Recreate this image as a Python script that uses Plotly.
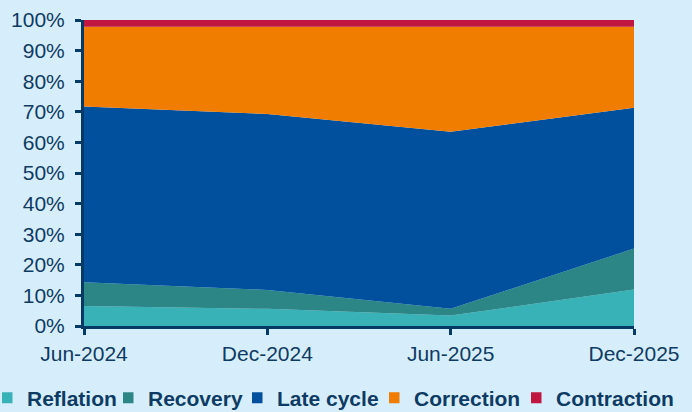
import plotly.graph_objects as go

periods = ["Jun-2024", "Dec-2024", "Jun-2025", "Dec-2025"]
reflation = [6.5, 5.6, 3.4, 11.9]
recovery = [7.8, 6.2, 2.2, 13.4]
late_cycle = [57.4, 57.5, 57.9, 46.0]
correction = [26.1, 28.5, 34.3, 26.5]
contraction = [2.2, 2.2, 2.2, 2.2]

series_names = ["Reflation", "Recovery", "Late cycle", "Correction", "Contraction"]
series_values = [reflation, recovery, late_cycle, correction, contraction]
colors = ["#38B2B7", "#2C8686", "#00509E", "#F07D00", "#C0163F"]

BG = "#D6EEFC"
INK = "#0E3B63"
AXIS = "#063A66"

xs = list(range(len(periods)))
fig = go.Figure()
for name, vals, col in zip(series_names, series_values, colors):
    fig.add_trace(go.Scatter(
        x=xs, y=vals, name=name, stackgroup="one", mode="none",
        fillcolor=col, line=dict(width=0), showlegend=False,
        hoverinfo="skip"))

legend_ids = ["legend", "legend2", "legend3", "legend4", "legend5"]
legend_px = [2, 123, 252, 389, 531]
for name, col, lid in zip(series_names, colors, legend_ids):
    fig.add_trace(go.Scatter(
        x=[None], y=[None], mode="markers", name=name,
        marker=dict(symbol="square", size=11, color=col),
        showlegend=True, legend=lid))

layout_legends = {}
for lid, px in zip(legend_ids, legend_px):
    layout_legends[lid] = dict(
        xref="container", yref="container",
        x=px / 692, xanchor="left", y=1 - 398 / 412, yanchor="middle",
        orientation="h", bgcolor="rgba(0,0,0,0)", borderwidth=0,
        indentation=-15,
        font=dict(family="Liberation Sans, Arial", size=21, color=INK,
                  weight="bold"),
        itemwidth=30)

fig.update_layout(
    width=692, height=412,
    paper_bgcolor=BG, plot_bgcolor=BG,
    margin=dict(l=84, r=58, t=20, b=86, autoexpand=False),
    font=dict(family="Liberation Sans, Arial", size=21, color=INK),
    **layout_legends)

fig.update_xaxes(
    range=[0, 3], tickmode="array", tickvals=xs, ticktext=periods,
    showgrid=False, zeroline=False, showline=True, linecolor=AXIS,
    linewidth=3, ticks="outside", ticklen=6, tickwidth=3, tickcolor=AXIS,
    ticklabelstandoff=1, tickfont=dict(size=21, color=INK), automargin=False)
fig.update_yaxes(
    range=[0, 100], tickmode="array", tickvals=list(range(0, 101, 10)),
    ticktext=[f"{v}%" for v in range(0, 101, 10)],
    showgrid=False, zeroline=False, showline=True, linecolor=AXIS,
    linewidth=3, ticks="outside", ticklen=6, tickwidth=3, tickcolor=AXIS,
    ticklabelstandoff=6, tickfont=dict(size=21, color=INK), automargin=False)

fig.write_html(
    "out.html",
    config={"displayModeBar": False},
    post_script="document.body.style.margin='0px';"
                "document.body.style.padding='0px';"
                "document.body.style.overflow='hidden';")
